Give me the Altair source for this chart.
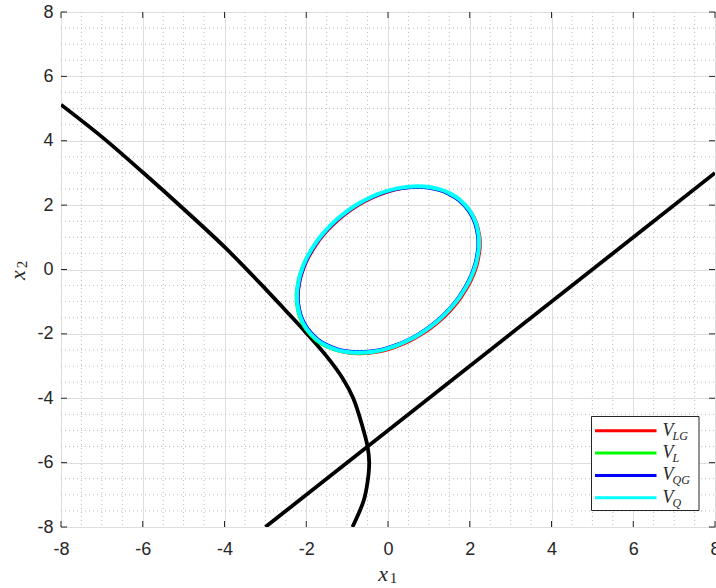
import altair as alt
import pandas as pd

# Tick positions and minor grid positions (both axes share them)
TICKS = [-8, -6, -4, -2, 0, 2, 4, 6, 8]
MINOR = [-7.5, -7, -6.5, -5.5, -5, -4.5, -3.5, -3, -2.5, -1.5, -1, -0.5,
         0.5, 1, 1.5, 2.5, 3, 3.5, 4.5, 5, 5.5, 6.5, 7, 7.5]

# Curved constraint boundary
bnd_x1 = [-8.0, -7.0, -6.0, -5.0, -4.0, -3.0, -2.5, -2.0, -1.5, -1.1, -0.85,
          -0.62, -0.5, -0.46, -0.5, -0.6, -0.87]
bnd_x2 = [5.12, 4.12, 3.02, 1.88, 0.70, -0.60, -1.28, -1.97, -2.7, -3.4, -4.0,
          -4.9, -5.5, -6.0, -6.6, -7.2, -8.0]

# Straight constraint boundary
lin_x1 = [-3.0, 8.0]
lin_x2 = [-8.0, 3.0]

# Level sets of the four Lyapunov estimates (closed curves, traced counter-clockwise from the left)
vlg_x1 = [-2.192, -2.185, -2.115, -1.965, -1.715, -1.465, -1.215, -0.965, -0.715, -0.465, -0.215,
          0.035, 0.285, 0.535, 0.785, 1.035, 1.285, 1.535, 1.785, 2.035, 2.185, 2.255,
          2.262, 2.255, 2.185, 2.035, 1.785, 1.535, 1.285, 1.035, 0.785, 0.535, 0.285,
          0.035, -0.215, -0.465, -0.715, -0.965, -1.215, -1.465, -1.715, -1.965, -2.115, -2.185]
vlg_x2 = [-0.870, -0.668, -0.201, 0.293, 0.824, 1.213, 1.524, 1.779, 1.990, 2.165, 2.305,
          2.414, 2.493, 2.539, 2.553, 2.529, 2.461, 2.338, 2.137, 1.793, 1.411, 0.997,
          0.800, 0.598, 0.131, -0.363, -0.894, -1.283, -1.594, -1.849, -2.060, -2.235, -2.375,
          -2.484, -2.563, -2.609, -2.623, -2.599, -2.531, -2.408, -2.207, -1.863, -1.481, -1.067]

vl_x1 = [-2.252, -2.245, -2.175, -2.025, -1.775, -1.525, -1.275, -1.025, -0.775, -0.525, -0.275,
         -0.025, 0.225, 0.475, 0.725, 0.975, 1.225, 1.475, 1.725, 1.975, 2.125, 2.195,
         2.202, 2.195, 2.125, 1.975, 1.725, 1.475, 1.225, 0.975, 0.725, 0.475, 0.225,
         -0.025, -0.275, -0.525, -0.775, -1.025, -1.275, -1.525, -1.775, -2.025, -2.175, -2.245]
vl_x2 = [-0.860, -0.658, -0.191, 0.303, 0.834, 1.223, 1.534, 1.789, 2.000, 2.175, 2.315,
         2.424, 2.503, 2.549, 2.563, 2.539, 2.471, 2.348, 2.147, 1.803, 1.421, 1.007,
         0.810, 0.608, 0.141, -0.353, -0.884, -1.273, -1.584, -1.839, -2.050, -2.225, -2.365,
         -2.474, -2.553, -2.599, -2.613, -2.589, -2.521, -2.398, -2.197, -1.853, -1.471, -1.057]

vqg_x1 = [-2.194, -2.187, -2.118, -1.970, -1.724, -1.478, -1.231, -0.985, -0.739, -0.493, -0.246,
          0.0, 0.246, 0.493, 0.739, 0.985, 1.231, 1.478, 1.724, 1.970, 2.118, 2.187,
          2.194, 2.187, 2.118, 1.970, 1.724, 1.478, 1.231, 0.985, 0.739, 0.493, 0.246,
          0.0, -0.246, -0.493, -0.739, -0.985, -1.231, -1.478, -1.724, -1.970, -2.118, -2.187]
vqg_x2 = [-0.822, -0.624, -0.164, 0.323, 0.846, 1.229, 1.536, 1.787, 1.995, 2.167, 2.305,
          2.412, 2.490, 2.535, 2.549, 2.526, 2.459, 2.337, 2.139, 1.801, 1.424, 1.017,
          0.822, 0.624, 0.164, -0.323, -0.846, -1.229, -1.536, -1.787, -1.995, -2.167, -2.305,
          -2.412, -2.490, -2.535, -2.549, -2.526, -2.459, -2.337, -2.139, -1.801, -1.424, -1.017]

vq_x1 = [-2.227, -2.22, -2.15, -2.0, -1.75, -1.5, -1.25, -1.0, -0.75, -0.5, -0.25,
         0.0, 0.25, 0.5, 0.75, 1.0, 1.25, 1.5, 1.75, 2.0, 2.15, 2.22,
         2.227, 2.22, 2.15, 2.0, 1.75, 1.5, 1.25, 1.0, 0.75, 0.5, 0.25,
         0.0, -0.25, -0.5, -0.75, -1.0, -1.25, -1.5, -1.75, -2.0, -2.15, -2.22]
vq_x2 = [-0.835, -0.633, -0.166, 0.328, 0.859, 1.248, 1.559, 1.814, 2.025, 2.200, 2.340,
         2.449, 2.528, 2.574, 2.588, 2.564, 2.496, 2.373, 2.172, 1.828, 1.446, 1.032,
         0.835, 0.633, 0.166, -0.328, -0.859, -1.248, -1.559, -1.814, -2.025, -2.200, -2.340,
         -2.449, -2.528, -2.574, -2.588, -2.564, -2.496, -2.373, -2.172, -1.828, -1.446, -1.032]

SERIES = ["V_LG", "V_L", "V_QG", "V_Q"]
SUBS = ["LG", "L", "QG", "Q"]
COLORS = ["#ff0000", "#00ff00", "#0000ff", "#00ffff"]
WIDTHS = [2.5, 2.5, 2.5, 4.0]
ELLIPSES = [(vlg_x1, vlg_x2), (vl_x1, vl_x2), (vqg_x1, vqg_x2), (vq_x1, vq_x2)]

W, H = 654, 515
INK = "#262626"

scale = alt.Scale(domain=[-8, 8], nice=False, zero=False)
xaxis = alt.Axis(values=TICKS, title=None, labelPadding=13, labelExpr="'' + datum.value")
yaxis = alt.Axis(values=TICKS, title=None, labelPadding=8, labelExpr="'' + datum.value")


def X(field):
    return alt.X(field, type="quantitative", scale=scale, axis=xaxis)


def Y(field):
    return alt.Y(field, type="quantitative", scale=scale, axis=yaxis)


minor_df = pd.DataFrame({"m": MINOR})
tick_df = pd.DataFrame({"t": TICKS})
one = pd.DataFrame({"a": [0]})

minor_v = alt.Chart(minor_df).mark_rule(color="#bdbdbd", strokeWidth=1, strokeDash=[1, 3]).encode(
    x=X("m"), y=alt.value(0), y2=alt.value(H))
minor_h = alt.Chart(minor_df).mark_rule(color="#bdbdbd", strokeWidth=1, strokeDash=[1, 3]).encode(
    y=Y("m"), x=alt.value(0), x2=alt.value(W))

bnd_df = pd.DataFrame({"x1": bnd_x1, "x2": bnd_x2, "i": range(len(bnd_x1))})
lin_df = pd.DataFrame({"x1": lin_x1, "x2": lin_x2, "i": range(len(lin_x1))})

boundary = alt.Chart(bnd_df).mark_line(color="black", strokeWidth=3.8, interpolate="catmull-rom",
                                       clip=True).encode(x=X("x1"), y=Y("x2"), order="i:Q")
straight = alt.Chart(lin_df).mark_line(color="black", strokeWidth=3.8, clip=True).encode(
    x=X("x1"), y=Y("x2"), order="i:Q")

ellipse_layers = []
for name, (ex, ey), col, w in zip(SERIES, ELLIPSES, COLORS, WIDTHS):
    edf = pd.DataFrame({"x1": ex, "x2": ey, "i": range(len(ex))})
    ellipse_layers.append(
        alt.Chart(edf).mark_line(color=col, strokeWidth=w, interpolate="cardinal-closed").encode(
            x=X("x1"), y=Y("x2"), order="i:Q"))

# inward tick marks on all four sides
tk = alt.Chart(tick_df).mark_rule(color=INK, strokeWidth=1)
ticks = [
    tk.encode(x=X("t"), y=alt.value(H), y2=alt.value(H - 6)),
    tk.encode(x=X("t"), y=alt.value(0), y2=alt.value(6)),
    tk.encode(y=Y("t"), x=alt.value(0), x2=alt.value(6)),
    tk.encode(y=Y("t"), x=alt.value(W), x2=alt.value(W - 6)),
]

# legend
leg_df = pd.DataFrame({"name": SERIES, "main": [s[0] for s in SERIES], "sub": SUBS,
                       "color": COLORS, "k": range(len(SERIES))})
leg_base = alt.Chart(leg_df).transform_calculate(yp="418.7 + 22.35 * datum.k",
                                                 ys="423.5 + 22.35 * datum.k")
leg_box = alt.Chart(one).mark_rect(fill="white", stroke=INK, strokeWidth=1).encode(
    x=alt.value(530.5), x2=alt.value(638), y=alt.value(404.5), y2=alt.value(498.5))
leg_lines = leg_base.mark_rule(strokeWidth=3).encode(
    x=alt.value(534), x2=alt.value(595.5), y=alt.Y("yp:Q", scale=None),
    color=alt.Color("color:N", scale=None))
leg_main = leg_base.mark_text(font="Liberation Serif", fontStyle="italic", fontSize=18, align="left",
                              baseline="middle", color=INK).encode(
    x=alt.value(601.5), y=alt.Y("yp:Q", scale=None), text="main:N")
leg_sub = leg_base.mark_text(font="Liberation Serif", fontStyle="italic", fontSize=12, align="left",
                             baseline="middle", color=INK).encode(
    x=alt.value(611.5), y=alt.Y("ys:Q", scale=None), text="sub:N")

# axis titles x_1 and x_2
tx = alt.Chart(one).mark_text(font="Liberation Serif", fontStyle="italic", fontSize=22, align="center",
                              baseline="middle", color=INK).encode(
    x=alt.value(322), y=alt.value(562), text=alt.value("x"))
tx_sub = alt.Chart(one).mark_text(font="Liberation Serif", fontSize=15, align="center",
                                  baseline="middle", color=INK).encode(
    x=alt.value(332.5), y=alt.value(566), text=alt.value("1"))
ty = alt.Chart(one).mark_text(font="Liberation Serif", fontStyle="italic", fontSize=22, align="center",
                              baseline="middle", angle=270, color=INK).encode(
    x=alt.value(-43), y=alt.value(263), text=alt.value("x"))
ty_sub = alt.Chart(one).mark_text(font="Liberation Serif", fontSize=15, align="center",
                                  baseline="middle", angle=270, color=INK).encode(
    x=alt.value(-39), y=alt.value(252.5), text=alt.value("2"))

chart = alt.layer(
    minor_v, minor_h, boundary, straight, *ellipse_layers, *ticks,
    leg_box, leg_lines, leg_main, leg_sub, tx, tx_sub, ty, ty_sub,
).properties(
    width=W, height=H,
    padding={"left": 61, "top": 12, "right": 1, "bottom": 61},
    autosize=alt.AutoSizeParams(type="none"),
).configure_view(
    stroke=INK, strokeWidth=1,
).configure_axis(
    labelFont="Liberation Sans", labelFontSize=18, labelColor=INK,
    grid=True, gridColor="#dedede", gridWidth=1,
    domain=False, ticks=False, labelFlush=False,
)

chart.save("out.html", embed_options={"renderer": "svg", "actions": False})
